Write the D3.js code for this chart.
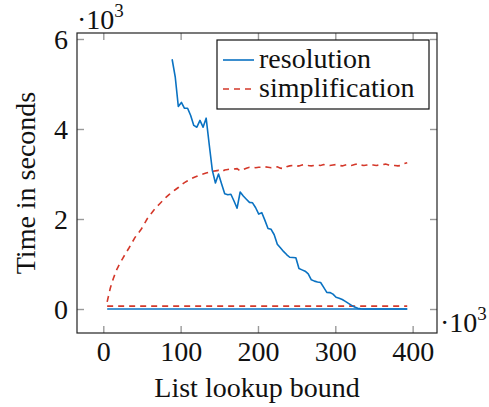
<!DOCTYPE html>
<html>
<head>
<meta charset="utf-8">
<script src="https://cdn.jsdelivr.net/npm/d3@7"></script>
<style>
  body { margin: 0; background: #fff; }
  svg { display: block; font-family: "Liberation Serif", "DejaVu Serif", serif; }
</style>
</head>
<body>
<div id="chart"></div>
<script>
// list lookup bounds (x)
const bounds = [5, 9, 13, 17, 21, 25, 29, 33, 37, 41, 45, 49, 53, 57, 61, 65, 69, 73, 77, 81, 85,
  89, 93, 97, 101, 105, 109, 113, 117, 121, 125, 129, 133, 137, 141, 145, 149, 153, 157, 161, 165,
  169, 173, 177, 181, 185, 189, 193, 197, 201, 205, 209, 213, 217, 221, 225, 229, 233, 237, 241, 245,
  249, 253, 257, 261, 265, 269, 273, 277, 281, 285, 289, 293, 297, 301, 305, 309, 313, 317, 321, 325,
  329, 333, 337, 341, 345, 349, 353, 357, 361, 365, 369, 373, 377, 381, 385, 389, 393];

// time in seconds
const resolution = [null, null, null, null, null, null, null, null, null, null, null, null, null, null, null, null, null, null, null, null, null,
  5550, 5160, 4500, 4590, 4460, 4460, 4300, 4080, 4040, 4190, 4040, 4240, 3650, 3080, 2800, 3000, 2780, 2560, 2540, 2550,
  2400, 2240, 2600, 2510, 2440, 2370, 2360, 2250, 2110, 2140, 1970, 1790, 1770, 1650, 1440, 1360, 1280, 1210, 1150, 1145,
  1140, 900, 870, 840, 780, 650, 620, 600, 590, 480, 370, 365, 330, 260, 240, 210, 170, 125, 80, 45,
  15, 5, 0, 0, 0, 0, 0, 0, 0, 0, 0, 0, 0, 0, 0, 0, 0];

const simplification = [160, 460, 680, 860, 1000, 1120, 1240, 1350, 1470, 1590, 1680, 1770, 1890, 2010, 2100, 2190, 2270, 2340, 2410, 2480, 2540,
  2600, 2650, 2700, 2760, 2810, 2850, 2890, 2920, 2950, 2980, 3000, 3020, 3040, 3060, 3070, 3080, 3050, 3090, 3100, 3110,
  3110, 3120, 3070, 3100, 3130, 3150, 3150, 3140, 3150, 3150, 3160, 3150, 3140, 3150, 3160, 3130, 3120, 3160, 3180, 3190,
  3170, 3180, 3200, 3210, 3190, 3180, 3190, 3200, 3190, 3210, 3200, 3190, 3200, 3210, 3190, 3180, 3200, 3210, 3190, 3210,
  3230, 3200, 3190, 3200, 3210, 3200, 3190, 3200, 3210, 3220, 3200, 3180, 3190, 3180, 3190, 3230, 3250];

// flat reference runs near zero
const baseBounds = [5, 393];
const resolutionBase = [0, 0];
const simplificationBase = [65, 65];

const xTicks = [0, 100, 200, 300, 400];
const yTicks = [0, 2000, 4000, 6000];

const W = 489, H = 407;
const box = {left: 77, right: 437, top: 33, bottom: 333};
const blue = '#0a72c2', red = '#d4382a', tickCol = '#9a9a9a';
const fs = 28;

const svg = d3.select('#chart').append('svg')
  .attr('width', W).attr('height', H);

const x = d3.scaleLinear().domain([-34, 431.5]).range([box.left, box.right]);
const y = d3.scaleLinear().domain([-533, 6133]).range([box.bottom, box.top]);

// ticks on all four sides, pointing inward
function styleAxis(g){
  g.attr('font-family', null).attr('font-size', fs);
  g.select('.domain').remove();
  g.selectAll('.tick line').attr('stroke', tickCol).attr('stroke-width', 1.4);
  g.selectAll('.tick text').attr('fill', '#111');
}
svg.append('g').attr('transform', `translate(0,${box.bottom})`)
  .call(d3.axisBottom(x).tickValues(xTicks).tickSize(-7))
  .call(styleAxis)
  .call(g => g.selectAll('text').attr('dy', null).attr('y', 28));
svg.append('g').attr('transform', `translate(0,${box.top})`)
  .call(d3.axisTop(x).tickValues(xTicks).tickSize(-7).tickFormat(''))
  .call(styleAxis);
svg.append('g').attr('transform', `translate(${box.left},0)`)
  .call(d3.axisLeft(y).tickValues(yTicks).tickSize(-7).tickPadding(9).tickFormat(d => d / 1000))
  .call(styleAxis)
  .call(g => g.selectAll('text').attr('dy', '0.33em'));
svg.append('g').attr('transform', `translate(${box.right},0)`)
  .call(d3.axisRight(y).tickValues(yTicks).tickSize(-7).tickFormat(''))
  .call(styleAxis);

const line = d3.line()
  .defined(d => d[1] != null)
  .x(d => x(d[0])).y(d => y(d[1]));

const plot = svg.append('g');
plot.append('path')
  .datum(baseBounds.map((b, i) => [b, simplificationBase[i]]))
  .attr('d', line).attr('fill', 'none').attr('stroke', red)
  .attr('stroke-width', 1.6).attr('stroke-dasharray', '6,5');
plot.append('path')
  .datum(baseBounds.map((b, i) => [b, resolutionBase[i]]))
  .attr('d', line).attr('fill', 'none').attr('stroke', blue).attr('stroke-width', 1.6);
plot.append('path')
  .datum(bounds.map((b, i) => [b, simplification[i]]))
  .attr('d', line).attr('fill', 'none').attr('stroke', red)
  .attr('stroke-width', 1.6).attr('stroke-dasharray', '6,5');
plot.append('path')
  .datum(bounds.map((b, i) => [b, resolution[i]]))
  .attr('d', line).attr('fill', 'none').attr('stroke', blue)
  .attr('stroke-width', 1.6).attr('stroke-linejoin', 'round');

// frame
svg.append('rect')
  .attr('x', box.left).attr('y', box.top)
  .attr('width', box.right - box.left).attr('height', box.bottom - box.top)
  .attr('fill', 'none').attr('stroke', '#222').attr('stroke-width', 1.2);

// scale markers
function tenCubed(px, py){
  const t = svg.append('text').attr('x', px).attr('y', py).attr('font-size', fs).attr('fill', '#111');
  t.append('tspan').text('·10');
  t.append('tspan').attr('font-size', 19).attr('dy', -12).text('3');
}
tenCubed(77, 29);
tenCubed(440, 332);

// axis titles
svg.append('text')
  .attr('x', (box.left + box.right) / 2).attr('y', 397)
  .attr('text-anchor', 'middle').attr('font-size', fs).attr('fill', '#111')
  .text('List lookup bound');
svg.append('text')
  .attr('transform', `translate(35,${(box.top + box.bottom) / 2}) rotate(-90)`)
  .attr('text-anchor', 'middle').attr('font-size', fs).attr('fill', '#111')
  .text('Time in seconds');

// legend
const legend = svg.append('g');
legend.append('rect')
  .attr('x', 217).attr('y', 40).attr('width', 212).attr('height', 69)
  .attr('fill', '#fff').attr('stroke', '#111').attr('stroke-width', 1.2);
const entries = [
  {name: 'resolution', color: blue, dash: null, yy: 60},
  {name: 'simplification', color: red, dash: '6,5', yy: 89}
];
entries.forEach(e => {
  legend.append('line')
    .attr('x1', 223).attr('x2', 254).attr('y1', e.yy).attr('y2', e.yy)
    .attr('stroke', e.color).attr('stroke-width', 1.6).attr('stroke-dasharray', e.dash);
  legend.append('text')
    .attr('x', 259).attr('y', e.yy + 8).attr('font-size', fs).attr('fill', '#111')
    .text(e.name);
});
</script>
</body>
</html>
